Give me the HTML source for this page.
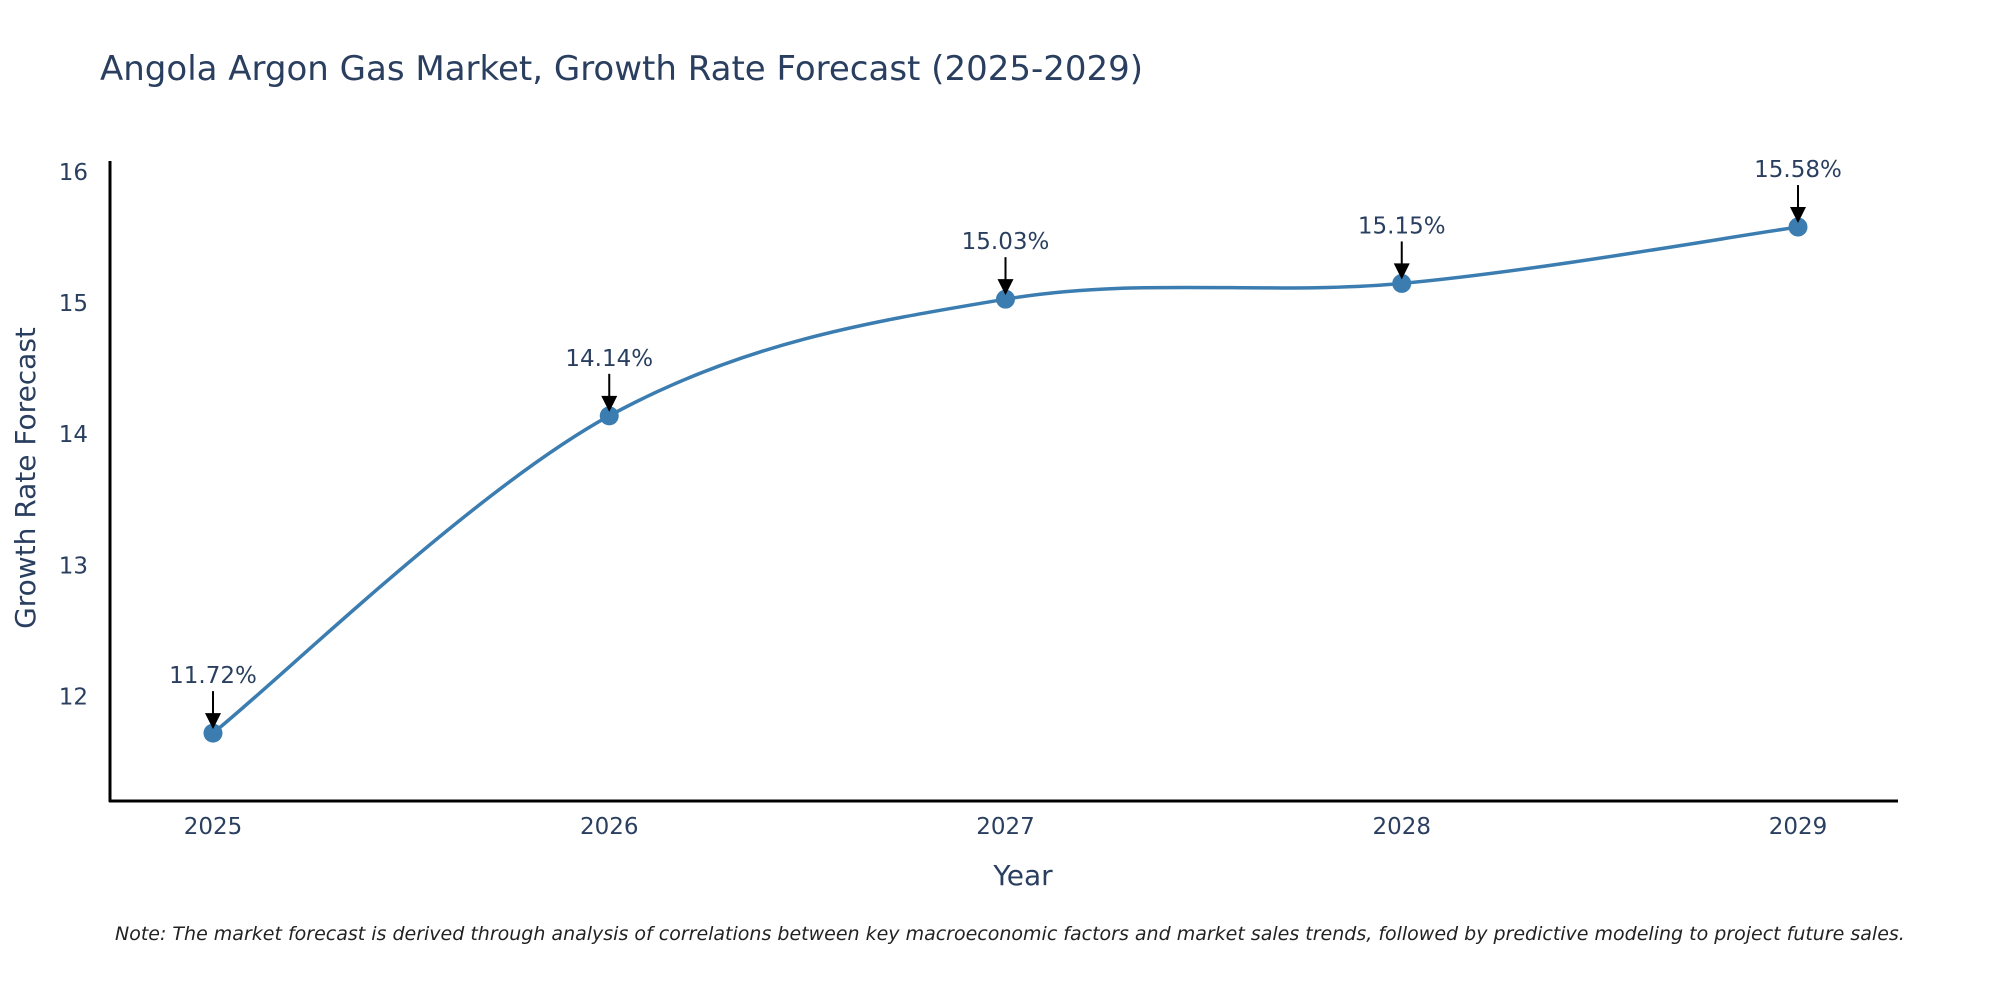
<!DOCTYPE html>
<html><head><meta charset="utf-8"><style>
body{margin:0;background:#fff}
svg text{font-family:"DejaVu Sans","Liberation Sans",sans-serif}
</style></head><body>
<svg id="chart" width="2000" height="1000" viewBox="0 0 2000 1000">
<text x="100" y="80" font-size="34" fill="#2a3f5f">Angola Argon Gas Market, Growth Rate Forecast (2025-2029)</text>
<g id="yticks"></g>
<g id="xticks"></g>
<line x1="110" y1="161" x2="110" y2="802" stroke="#000" stroke-width="3"/>
<line x1="109" y1="801" x2="1898" y2="801" stroke="#000" stroke-width="3"/>
<text transform="translate(35,478) rotate(-90)" text-anchor="middle" font-size="28" fill="#2a3f5f">Growth Rate Forecast</text>
<text x="1023" y="885" text-anchor="middle" font-size="28" fill="#2a3f5f">Year</text>
<g id="series"></g>
<text x="115" y="940" font-size="19" font-style="italic" fill="#222">Note: The market forecast is derived through analysis of correlations between key macroeconomic factors and market sales trends, followed by predictive modeling to project future sales.</text>
</svg>
<script>
const years = ["2025","2026","2027","2028","2029"];
const values = [11.72, 14.14, 15.03, 15.15, 15.58];
const yTickValues = [12, 13, 14, 15, 16];
const NS = "http://www.w3.org/2000/svg";
function xPos(i){ return 213 + i * 396.25; }
function yPos(v){ return 172 + (16 - v) * 131.1; }
function mk(tag, attrs, parent){ const e = document.createElementNS(NS, tag); for (const k in attrs) e.setAttribute(k, attrs[k]); parent.appendChild(e); return e; }
const yt = document.getElementById("yticks");
yTickValues.forEach(v => {
  const t = mk("text", {x: 88, y: yPos(v) + 8, "text-anchor": "end", "font-size": 23, fill: "#2a3f5f"}, yt);
  
  
  t.textContent = v;
});
const xt = document.getElementById("xticks");
years.forEach((y, i) => {
  const t = mk("text", {x: xPos(i), y: 834, "text-anchor": "middle", "font-size": 23, fill: "#2a3f5f"}, xt);
  
  
  t.textContent = y;
});
const g = document.getElementById("series");
const pts = values.map((v, i) => [xPos(i), yPos(v)]);
let d = "M" + pts[0][0] + "," + pts[0][1];
const s = 0.17;
for (let i = 0; i < pts.length - 1; i++) {
  const p0 = pts[Math.max(i - 1, 0)], p1 = pts[i], p2 = pts[i + 1], p3 = pts[Math.min(i + 2, pts.length - 1)];
  const c1 = [p1[0] + (p2[0] - p0[0]) * s, p1[1] + (p2[1] - p0[1]) * s];
  const c2 = [p2[0] - (p3[0] - p1[0]) * s, p2[1] - (p3[1] - p1[1]) * s];
  d += " C" + c1 + " " + c2 + " " + p2;
}
const line = mk("path", {d: d, fill: "none", stroke: "#3b7db0", "stroke-width": 3.5}, g);


values.forEach((v, i) => {
  const x = xPos(i), y = yPos(v);
  const c = mk("circle", {cx: x, cy: y, r: 9.5, fill: "#3b7db0"}, g);
  
  
  const a = mk("line", {x1: x, y1: y - 42, x2: x, y2: y - 18, stroke: "#000", "stroke-width": 2}, g);
  
  
  const h = mk("polygon", {points: (x - 8) + "," + (y - 20) + " " + (x + 8) + "," + (y - 20) + " " + x + "," + (y - 4), fill: "#000"}, g);
  
  
  const t = mk("text", {x: x, y: y - 50, "text-anchor": "middle", "font-size": 23, fill: "#2a3f5f"}, g);
  
  
  t.textContent = v.toFixed(2) + "%";
});
</script>
</body></html>
